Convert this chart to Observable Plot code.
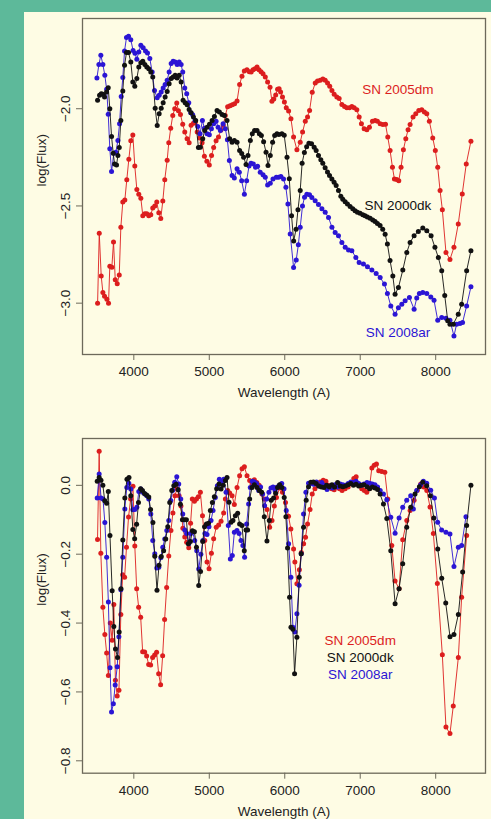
<!DOCTYPE html>
<html><head><meta charset="utf-8">
<script src="https://cdn.jsdelivr.net/npm/d3@7"></script>
<script src="https://cdn.jsdelivr.net/npm/@observablehq/plot@0.6"></script>
<style>
html,body{margin:0;padding:0;}
body{width:491px;height:819px;background:#5db99a;position:relative;overflow:hidden;font-family:"Liberation Sans",Arial,Helvetica,sans-serif;}
#panel{position:absolute;left:24px;top:12px;width:467px;height:807px;background:#fefce4;}
#top,#bottom{position:absolute;left:0;width:491px;}
#top{top:0;}
#bottom{top:410px;}
</style></head><body>
<div id="panel"></div>
<div id="top"></div>
<div id="bottom"></div>
<script>
// ---- chart values ----
const seriesNames = ["SN 2005dm", "SN 2000dk", "SN 2008ar"];
const seriesColors = ["#dc1e1e", "#111111", "#2b15d4"];
const xTicks = [4000, 5000, 6000, 7000, 8000];
const topYTicks = [-3.0, -2.5, -2.0];
const bottomYTicks = [-0.8, -0.6, -0.4, -0.2, 0.0];
const xLabel = "Wavelength (A)";
const yLabel = "log(Flux)";
const topLabelX = [7500, 7500, 7500];
const topLabelY = [-1.90, -2.50, -3.15];
const bottomLabelX = [7000, 7000, 7000];
const bottomLabelY = [-0.45, -0.50, -0.55];

// top panel: log(Flux) spectra  [wavelength, value]
const top2005dm = [[3520,-3.00],[3542,-2.64],[3568,-2.86],[3590,-2.945],[3612,-2.965],[3643,-2.98],[3665,-3.00],[3682,-2.81],[3709,-2.815],[3731,-2.685],[3754,-2.88],[3780,-2.90],[3807,-2.855],[3828,-2.61],[3854,-2.48],[3881,-2.47],[3907,-2.365],[3934,-2.26],[3960,-2.165],[3987,-2.135],[4013,-2.295],[4040,-2.415],[4066,-2.44],[4093,-2.46],[4119,-2.55],[4146,-2.54],[4172,-2.54],[4198,-2.55],[4225,-2.545],[4251,-2.51],[4278,-2.50],[4304,-2.48],[4331,-2.535],[4357,-2.565],[4384,-2.475],[4410,-2.365],[4442,-2.265],[4463,-2.175],[4489,-2.10],[4516,-2.035],[4542,-2.00],[4569,-1.97],[4591,-2.01],[4618,-2.03],[4648,-2.08],[4675,-2.12],[4706,-2.155],[4733,-2.175],[4759,-2.085],[4790,-2.075],[4815,-2.07],[4840,-2.12],[4870,-2.15],[4905,-2.175],[4935,-2.245],[4968,-2.27],[5000,-2.29],[5030,-2.24],[5058,-2.20],[5090,-2.165],[5122,-2.145],[5155,-2.11],[5185,-2.085],[5212,-2.035],[5243,-1.99],[5275,-1.985],[5305,-1.98],[5335,-1.975],[5368,-1.96],[5402,-1.875],[5433,-1.833],[5464,-1.806],[5499,-1.80],[5530,-1.81],[5555,-1.811],[5580,-1.80],[5606,-1.794],[5633,-1.786],[5659,-1.80],[5686,-1.81],[5712,-1.82],[5742,-1.837],[5773,-1.863],[5805,-1.89],[5830,-1.962],[5855,-1.95],[5880,-1.93],[5905,-1.90],[5925,-1.897],[5945,-1.914],[5970,-1.94],[5995,-1.966],[6020,-1.995],[6051,-2.012],[6082,-2.052],[6117,-2.146],[6161,-2.211],[6205,-2.172],[6236,-2.12],[6272,-2.064],[6302,-2.043],[6329,-2.009],[6364,-1.915],[6404,-1.868],[6434,-1.858],[6470,-1.854],[6505,-1.847],[6536,-1.854],[6567,-1.868],[6596,-1.885],[6625,-1.906],[6655,-1.926],[6690,-1.94],[6721,-1.948],[6757,-1.978],[6792,-1.988],[6823,-1.995],[6858,-1.995],[6889,-1.988],[6920,-1.995],[6955,-2.005],[6986,-2.043],[7016,-2.077],[7052,-2.103],[7088,-2.108],[7122,-2.095],[7162,-2.065],[7198,-2.06],[7228,-2.065],[7264,-2.077],[7300,-2.081],[7335,-2.08],[7365,-2.146],[7396,-2.215],[7427,-2.301],[7453,-2.361],[7484,-2.364],[7511,-2.37],[7541,-2.301],[7572,-2.211],[7604,-2.155],[7634,-2.108],[7661,-2.081],[7700,-2.043],[7736,-2.026],[7776,-2.009],[7815,-2.005],[7850,-2.017],[7882,-2.026],[7916,-2.064],[7961,-2.15],[7995,-2.215],[8027,-2.301],[8058,-2.421],[8088,-2.519],[8136,-2.739],[8189,-2.775],[8242,-2.713],[8299,-2.593],[8352,-2.438],[8405,-2.284],[8467,-2.167]];

const top2000dk = [[3520,-1.957],[3546,-1.931],[3569,-1.923],[3590,-1.925],[3612,-1.94],[3639,-1.914],[3661,-1.892],[3682,-2.0],[3705,-2.143],[3727,-2.229],[3745,-2.284],[3771,-2.289],[3789,-2.241],[3807,-2.20],[3828,-2.06],[3854,-1.909],[3877,-1.777],[3903,-1.711],[3930,-1.711],[3960,-1.76],[3987,-1.863],[4013,-1.885],[4040,-1.845],[4066,-1.786],[4093,-1.763],[4119,-1.756],[4146,-1.773],[4172,-1.786],[4198,-1.794],[4225,-1.811],[4251,-1.837],[4283,-1.997],[4310,-2.086],[4336,-2.026],[4363,-1.997],[4389,-1.969],[4415,-1.94],[4442,-1.911],[4468,-1.871],[4495,-1.845],[4521,-1.837],[4548,-1.828],[4574,-1.842],[4601,-1.828],[4627,-1.863],[4653,-1.957],[4680,-1.969],[4706,-1.979],[4733,-2.004],[4759,-2.021],[4790,-2.043],[4820,-2.06],[4856,-2.20],[4882,-2.198],[4913,-2.155],[4939,-2.112],[4971,-2.095],[5003,-2.08],[5037,-2.06],[5068,-2.04],[5103,-2.009],[5134,-2.017],[5169,-2.03],[5200,-2.035],[5235,-2.06],[5270,-2.155],[5302,-2.172],[5332,-2.163],[5368,-2.172],[5402,-2.215],[5430,-2.23],[5455,-2.249],[5487,-2.287],[5513,-2.241],[5544,-2.163],[5570,-2.129],[5600,-2.112],[5633,-2.112],[5663,-2.129],[5690,-2.138],[5720,-2.17],[5752,-2.224],[5778,-2.292],[5808,-2.241],[5839,-2.172],[5866,-2.138],[5897,-2.129],[5922,-2.132],[5962,-2.129],[5993,-2.137],[6030,-2.25],[6060,-2.36],[6090,-2.55],[6118,-2.68],[6150,-2.62],[6175,-2.52],[6205,-2.42],[6230,-2.28],[6260,-2.225],[6290,-2.195],[6320,-2.177],[6355,-2.18],[6390,-2.198],[6416,-2.215],[6447,-2.241],[6478,-2.263],[6504,-2.28],[6535,-2.304],[6566,-2.326],[6593,-2.344],[6624,-2.361],[6654,-2.378],[6681,-2.395],[6712,-2.42],[6743,-2.45],[6769,-2.465],[6800,-2.478],[6831,-2.49],[6866,-2.503],[6901,-2.515],[6932,-2.525],[6963,-2.533],[6998,-2.538],[7034,-2.545],[7064,-2.55],[7095,-2.557],[7131,-2.563],[7166,-2.572],[7197,-2.58],[7228,-2.59],[7263,-2.60],[7298,-2.62],[7330,-2.645],[7360,-2.696],[7395,-2.78],[7432,-2.86],[7462,-2.954],[7506,-2.92],[7564,-2.83],[7617,-2.739],[7661,-2.688],[7714,-2.653],[7770,-2.631],[7829,-2.613],[7882,-2.627],[7939,-2.653],[7990,-2.713],[8035,-2.765],[8080,-2.833],[8120,-2.96],[8159,-3.09],[8189,-3.108],[8233,-3.108],[8299,-3.057],[8344,-3.005],[8410,-2.833],[8467,-2.73]];

const top2008ar = [[3511,-1.842],[3537,-1.773],[3563,-1.725],[3590,-1.773],[3616,-1.828],[3640,-1.90],[3661,-2.029],[3682,-2.206],[3705,-2.323],[3735,-2.229],[3762,-2.224],[3789,-2.163],[3811,-2.077],[3833,-1.937],[3854,-1.84],[3877,-1.703],[3903,-1.634],[3930,-1.627],[3960,-1.645],[3990,-1.70],[4015,-1.715],[4040,-1.745],[4066,-1.708],[4093,-1.674],[4124,-1.686],[4155,-1.703],[4181,-1.713],[4212,-1.742],[4243,-1.811],[4274,-1.906],[4310,-1.943],[4336,-1.931],[4363,-1.914],[4389,-1.894],[4415,-1.876],[4442,-1.854],[4468,-1.811],[4495,-1.768],[4521,-1.756],[4548,-1.76],[4574,-1.773],[4601,-1.76],[4627,-1.773],[4648,-1.811],[4675,-1.894],[4701,-1.923],[4728,-1.969],[4754,-2.021],[4780,-2.031],[4812,-2.06],[4847,-2.091],[4878,-2.129],[4909,-2.06],[4935,-2.10],[4971,-2.129],[5001,-2.134],[5028,-2.103],[5058,-2.077],[5090,-2.064],[5117,-2.095],[5147,-2.112],[5183,-2.077],[5213,-2.103],[5240,-2.16],[5266,-2.266],[5302,-2.344],[5332,-2.356],[5368,-2.309],[5398,-2.327],[5429,-2.37],[5465,-2.44],[5495,-2.37],[5527,-2.294],[5553,-2.28],[5584,-2.284],[5613,-2.301],[5640,-2.296],[5675,-2.327],[5712,-2.339],[5742,-2.352],[5773,-2.392],[5808,-2.383],[5844,-2.361],[5888,-2.352],[5918,-2.352],[5949,-2.349],[5984,-2.361],[6015,-2.404],[6042,-2.49],[6072,-2.644],[6117,-2.816],[6152,-2.778],[6180,-2.70],[6205,-2.61],[6235,-2.50],[6262,-2.455],[6293,-2.44],[6328,-2.442],[6359,-2.456],[6403,-2.473],[6447,-2.493],[6492,-2.515],[6536,-2.533],[6580,-2.559],[6625,-2.61],[6668,-2.636],[6712,-2.653],[6757,-2.688],[6801,-2.713],[6845,-2.727],[6889,-2.73],[6942,-2.765],[6986,-2.791],[7043,-2.799],[7096,-2.813],[7154,-2.83],[7211,-2.847],[7264,-2.868],[7321,-2.902],[7360,-2.95],[7405,-3.014],[7462,-3.057],[7506,-3.023],[7551,-3.005],[7595,-2.988],[7652,-2.971],[7714,-3.031],[7749,-2.974],[7784,-2.95],[7829,-2.945],[7882,-2.95],[7935,-2.968],[7978,-2.985],[8027,-3.088],[8080,-3.074],[8136,-3.077],[8189,-3.088],[8242,-3.169],[8277,-3.108],[8321,-3.105],[8356,-3.10],[8410,-3.014],[8467,-2.916]];

// bottom panel: continuum-normalised log(Flux)
const bottom2005dm = [[3519,-0.157],[3541,0.099],[3563,-0.197],[3590,-0.354],[3616,-0.433],[3640,-0.487],[3663,-0.552],[3688,-0.40],[3713,-0.45],[3735,-0.346],[3756,-0.566],[3780,-0.612],[3803,-0.595],[3828,-0.375],[3852,-0.26],[3878,-0.267],[3903,-0.18],[3930,-0.092],[3958,-0.04],[3989,-0.003],[4013,-0.176],[4038,-0.30],[4064,-0.354],[4091,-0.383],[4117,-0.483],[4144,-0.484],[4170,-0.496],[4197,-0.52],[4223,-0.522],[4249,-0.50],[4276,-0.493],[4302,-0.485],[4329,-0.547],[4355,-0.579],[4382,-0.495],[4408,-0.39],[4435,-0.297],[4463,-0.205],[4492,-0.131],[4518,-0.08],[4545,-0.03],[4572,-0.01],[4600,-0.03],[4625,-0.06],[4650,-0.125],[4675,-0.15],[4700,-0.165],[4728,-0.181],[4752,-0.11],[4775,-0.04],[4803,-0.046],[4830,-0.04],[4855,-0.033],[4882,-0.02],[4910,-0.088],[4940,-0.16],[4970,-0.223],[4997,-0.242],[5028,-0.197],[5058,-0.155],[5092,-0.122],[5124,-0.115],[5156,-0.104],[5190,-0.08],[5213,-0.04],[5243,-0.015],[5270,-0.022],[5302,-0.03],[5332,-0.056],[5368,-0.006],[5402,0.028],[5434,0.048],[5465,0.054],[5500,0.028],[5535,0.014],[5566,0.004],[5597,0.016],[5630,0.008],[5660,0.0],[5698,-0.025],[5729,-0.04],[5765,-0.07],[5800,-0.122],[5831,-0.102],[5862,-0.06],[5890,-0.035],[5932,-0.008],[5970,-0.02],[6010,-0.05],[6050,-0.09],[6081,-0.127],[6117,-0.185],[6134,-0.223],[6161,-0.286],[6194,-0.245],[6220,-0.195],[6250,-0.17],[6275,-0.151],[6302,-0.112],[6335,-0.07],[6364,-0.025],[6400,-0.01],[6435,0.0],[6470,0.01],[6510,0.015],[6545,0.012],[6580,0.0],[6620,-0.01],[6655,-0.013],[6690,-0.005],[6725,-0.01],[6760,-0.015],[6800,-0.01],[6840,-0.005],[6880,0.005],[6915,0.02],[6946,0.025],[6985,0.0],[7020,-0.01],[7055,-0.015],[7087,-0.02],[7120,-0.01],[7154,0.05],[7185,0.058],[7215,0.062],[7245,0.042],[7285,0.04],[7326,0.038],[7365,-0.04],[7418,-0.175],[7462,-0.278],[7515,-0.30],[7563,-0.158],[7617,-0.102],[7661,-0.073],[7714,-0.043],[7758,-0.014],[7802,0.004],[7842,-0.005],[7882,-0.015],[7925,-0.063],[7969,-0.14],[8022,-0.285],[8088,-0.492],[8136,-0.702],[8189,-0.721],[8233,-0.641],[8300,-0.50],[8344,-0.325],[8410,-0.146]];

const bottom2000dk = [[3515,0.012],[3541,0.023],[3565,0.015],[3590,0.0],[3615,-0.045],[3640,-0.052],[3662,-0.018],[3684,-0.146],[3713,-0.306],[3735,-0.41],[3757,-0.475],[3784,-0.50],[3806,-0.426],[3830,-0.30],[3854,-0.159],[3881,-0.037],[3909,0.018],[3936,0.023],[3960,-0.03],[3987,-0.128],[4011,-0.155],[4037,-0.113],[4062,-0.05],[4090,-0.01],[4115,-0.015],[4142,-0.024],[4170,-0.028],[4198,-0.034],[4222,-0.07],[4253,-0.108],[4278,-0.206],[4307,-0.305],[4334,-0.232],[4364,-0.207],[4395,-0.19],[4423,-0.156],[4450,-0.12],[4476,-0.05],[4503,-0.015],[4530,-0.001],[4560,0.003],[4588,-0.013],[4617,-0.055],[4644,-0.10],[4670,-0.10],[4697,-0.10],[4723,-0.17],[4750,-0.163],[4776,-0.132],[4803,-0.135],[4830,-0.18],[4860,-0.291],[4884,-0.25],[4913,-0.163],[4937,-0.12],[4962,-0.112],[4990,-0.11],[5014,-0.073],[5041,-0.05],[5067,-0.033],[5098,-0.01],[5129,0.004],[5156,-0.011],[5185,0.0],[5213,0.014],[5235,0.023],[5261,-0.049],[5288,-0.107],[5314,-0.102],[5345,-0.088],[5376,-0.081],[5402,-0.112],[5433,-0.117],[5464,-0.19],[5486,-0.13],[5508,-0.13],[5535,-0.04],[5566,-0.006],[5597,0.002],[5632,-0.006],[5663,-0.015],[5694,-0.02],[5729,-0.091],[5764,-0.162],[5795,-0.102],[5821,-0.043],[5852,-0.037],[5879,-0.023],[5905,-0.006],[5932,0.002],[5962,-0.006],[5993,-0.035],[6015,-0.091],[6037,-0.182],[6064,-0.325],[6082,-0.412],[6108,-0.418],[6130,-0.547],[6161,-0.441],[6192,-0.267],[6218,-0.199],[6249,-0.122],[6284,-0.043],[6315,-0.004],[6346,0.009],[6380,0.01],[6415,0.005],[6450,-0.002],[6485,-0.005],[6520,-0.006],[6555,0.0],[6590,-0.004],[6625,0.002],[6660,-0.005],[6700,0.008],[6735,-0.002],[6770,-0.004],[6805,-0.002],[6840,0.002],[6875,0.005],[6910,0.0],[6945,0.003],[6980,-0.002],[7015,0.0],[7050,0.002],[7090,-0.004],[7125,-0.01],[7160,-0.005],[7195,-0.008],[7230,-0.012],[7263,-0.025],[7308,-0.054],[7352,-0.096],[7405,-0.19],[7462,-0.344],[7515,-0.30],[7563,-0.228],[7616,-0.122],[7669,-0.064],[7726,-0.025],[7784,-0.004],[7828,0.009],[7881,-0.001],[7930,-0.03],[7975,-0.095],[8027,-0.185],[8080,-0.27],[8133,-0.342],[8190,-0.44],[8242,-0.433],[8300,-0.375],[8357,-0.252],[8410,-0.117],[8467,0.0]];

const bottom2008ar = [[3515,-0.037],[3541,0.033],[3566,-0.037],[3592,-0.04],[3616,-0.108],[3640,-0.209],[3663,-0.339],[3685,-0.53],[3705,-0.658],[3729,-0.634],[3753,-0.58],[3780,-0.527],[3802,-0.44],[3828,-0.303],[3854,-0.209],[3881,-0.069],[3907,-0.006],[3934,0.006],[3960,-0.011],[3987,-0.071],[4013,-0.07],[4040,-0.064],[4066,-0.018],[4093,-0.011],[4120,-0.02],[4146,-0.025],[4172,-0.03],[4198,-0.04],[4225,-0.083],[4251,-0.16],[4278,-0.199],[4304,-0.24],[4331,-0.238],[4357,-0.21],[4384,-0.18],[4410,-0.156],[4437,-0.131],[4463,-0.102],[4490,-0.044],[4516,-0.014],[4542,0.009],[4569,0.025],[4595,0.004],[4622,-0.04],[4648,-0.083],[4675,-0.13],[4700,-0.14],[4728,-0.17],[4754,-0.14],[4780,-0.135],[4807,-0.16],[4834,-0.19],[4860,-0.243],[4888,-0.20],[4915,-0.16],[4942,-0.14],[4970,-0.143],[4996,-0.12],[5023,-0.102],[5050,-0.073],[5080,-0.035],[5107,-0.001],[5133,0.018],[5162,0.01],[5191,0.018],[5222,-0.02],[5252,-0.117],[5279,-0.214],[5305,-0.204],[5332,-0.136],[5367,-0.131],[5395,-0.14],[5420,-0.16],[5445,-0.175],[5468,-0.209],[5495,-0.112],[5521,-0.054],[5543,-0.006],[5570,0.012],[5600,0.01],[5627,0.005],[5654,-0.015],[5680,-0.005],[5707,-0.025],[5733,-0.059],[5760,-0.04],[5790,-0.02],[5817,-0.008],[5845,-0.005],[5872,-0.015],[5900,-0.005],[5930,0.0],[5960,0.005],[5990,-0.01],[6020,-0.073],[6051,-0.17],[6082,-0.267],[6108,-0.412],[6134,-0.426],[6161,-0.373],[6190,-0.29],[6218,-0.199],[6249,-0.083],[6280,-0.02],[6315,0.006],[6350,0.005],[6385,0.003],[6420,0.01],[6455,-0.002],[6490,0.008],[6525,0.0],[6560,-0.012],[6595,-0.003],[6630,-0.008],[6665,0.002],[6700,-0.005],[6735,0.004],[6770,0.002],[6805,0.0],[6840,0.005],[6875,0.01],[6910,0.008],[6945,0.012],[6980,0.005],[7015,0.0],[7050,0.004],[7090,0.008],[7125,0.006],[7160,0.004],[7195,0.002],[7230,-0.005],[7265,-0.015],[7308,-0.025],[7352,-0.042],[7405,-0.093],[7462,-0.139],[7515,-0.095],[7563,-0.064],[7616,-0.043],[7669,-0.03],[7704,-0.069],[7748,-0.015],[7801,0.002],[7837,0.012],[7881,0.006],[7934,-0.014],[7983,-0.037],[8026,-0.107],[8079,-0.13],[8136,-0.136],[8189,-0.141],[8242,-0.236],[8300,-0.18],[8344,-0.175],[8401,-0.091]];

// ---- drawing ----
const axisColor = "#6d695a";
const textColor = "#222222";
const fontSize = 13.5;
const fmt = d => (d < 0 ? "\u2212" : "") + Math.abs(d).toFixed(1);

function panel({height, marginTop, marginBottom, yDomain, yTicks, series, labelX, labelY}) {
  const marks = [];
  for (const i of [0, 2, 1]) {
    marks.push(Plot.line(series[i], {x: d => d[0], y: d => d[1], stroke: seriesColors[i], strokeWidth: 0.9}));
    marks.push(Plot.dot(series[i], {x: d => d[0], y: d => d[1], fill: seriesColors[i], r: 2.5}));
  }
  for (let i = 0; i < 3; i++) {
    marks.push(Plot.text([seriesNames[i]], {x: () => labelX[i], y: () => labelY[i], text: d => d,
      fill: seriesColors[i], fontSize, textAnchor: "middle"}));
  }
  marks.push(Plot.frame({stroke: axisColor, strokeWidth: 1.3}));
  marks.push(Plot.axisX({ticks: xTicks, tickFormat: d => String(d), tickSize: 6, tickPadding: 6,
    stroke: axisColor, fill: textColor, fontSize, label: null}));
  marks.push(Plot.axisY({ticks: yTicks, tickFormat: fmt, tickSize: 6, tickPadding: 7, tickRotate: -90,
    textAnchor: "middle", lineAnchor: "bottom", stroke: axisColor, fill: textColor, fontSize, label: null}));
  marks.push(Plot.text([xLabel], {frameAnchor: "bottom", dy: 42.5, text: d => d, fill: textColor, fontSize}));
  marks.push(Plot.text([yLabel], {frameAnchor: "left", dx: -40.5, rotate: -90, text: d => d, fill: textColor, fontSize}));
  return Plot.plot({
    width: 491, height, marginLeft: 82, marginRight: 6, marginTop, marginBottom,
    x: {domain: [3320, 8660]},
    y: {domain: yDomain},
    style: {background: "transparent", overflow: "visible", fontFamily: "'Liberation Sans', Arial, Helvetica, sans-serif", color: textColor},
    marks
  });
}

document.getElementById("top").appendChild(panel({
  height: 410, marginTop: 18, marginBottom: 56, yDomain: [-3.264, -1.536], yTicks: topYTicks,
  series: [top2005dm, top2000dk, top2008ar], labelX: topLabelX, labelY: topLabelY
}));
document.getElementById("bottom").appendChild(panel({
  height: 409, marginTop: 28, marginBottom: 46.3, yDomain: [-0.836, 0.136], yTicks: bottomYTicks,
  series: [bottom2005dm, bottom2000dk, bottom2008ar], labelX: bottomLabelX, labelY: bottomLabelY
}));
</script>
</body></html>
